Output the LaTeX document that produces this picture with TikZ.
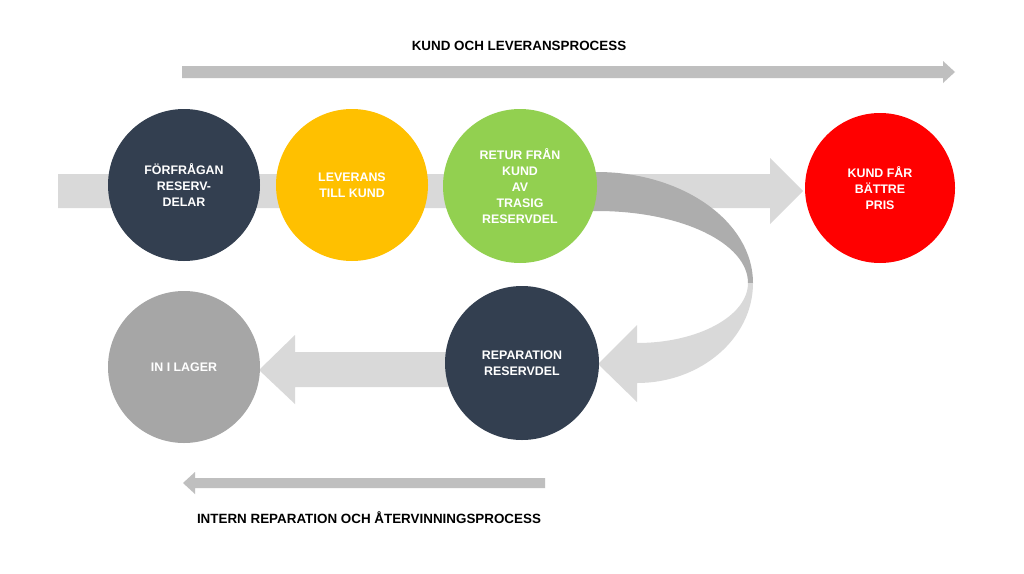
\documentclass[tikz,border=0pt]{standalone}
\usepackage{fontspec}
\setmainfont{Liberation Sans}
\definecolor{navy}{HTML}{333F50}
\definecolor{ylw}{HTML}{FFC000}
\definecolor{grn}{HTML}{92D050}
\definecolor{rd}{HTML}{FF0000}
\definecolor{gcirc}{HTML}{A6A6A6}
\definecolor{lband}{HTML}{D9D9D9}
\definecolor{dband}{HTML}{ADADAD}
\definecolor{thingray}{HTML}{BFBFBF}
\tikzset{
  stage/.style={circle, minimum size=152pt, inner sep=0pt, text=white,
    font=\bfseries\fontsize{12.4}{16}\selectfont, align=center},
  title/.style={font=\bfseries\fontsize{13.4}{15}\selectfont, text=black}
}
\begin{document}
\begin{tikzpicture}[x=1pt,y=-1pt]
\useasboundingbox (0,0) rectangle (1024,573);
\fill[white] (0,0) rectangle (1024,573);
% thin process arrows
\fill[thingray] (182,66) -- (943,66) -- (943,61) -- (955,72) -- (943,83) -- (943,78) -- (182,78) -- cycle;
\fill[thingray] (545,478) -- (195,478) -- (195,472) -- (183,483) -- (195,494) -- (195,488) -- (545,488) -- cycle;
\node[title] (t1) at (519,46) {KUND OCH LEVERANSPROCESS};
\node[title] (t2) at (369,518) {INTERN REPARATION OCH ÅTERVINNINGSPROCESS};
% main band
\fill[lband] (58,174) -- (770,174) -- (770,158) -- (803,191) -- (770,224) -- (770,208) -- (58,208) -- cycle;
% curved arrow dark part
\fill[dband] (580,172) -- (597,172) .. controls (683,172) and (753,222) .. (753,283)
  -- (748,283) .. controls (748,243) and (681,211) .. (597,211) -- (580,211) -- cycle;
% curved arrow light part
\fill[lband] (753,283) .. controls (753,338) and (701,383) .. (637,383)
  -- (637,402) -- (598,364) -- (637,325) -- (637,343)
  .. controls (698,343) and (748,316) .. (748,283) -- cycle;
% bottom band
\fill[lband] (460,352) -- (295,352) -- (295,335) -- (259,370) -- (295,404) -- (295,387) -- (460,387) -- cycle;
% circles
\node[stage, fill=navy] (req) at (184,185) {FÖRFRÅGAN\\RESERV-\\DELAR};
\node[stage, fill=ylw] (lev) at (352,185) {LEVERANS\\TILL KUND};
\node[stage, fill=grn, minimum size=154pt] (ret) at (520,186) {RETUR FRÅN\\KUND\\AV\\TRASIG\\RESERVDEL};
\node[stage, fill=rd, minimum size=150pt] (kund) at (880,188) {KUND FÅR\\BÄTTRE\\PRIS};
\node[stage, fill=navy, minimum size=154pt] (rep) at (522,363) {REPARATION\\RESERVDEL};
\node[stage, fill=gcirc] (lag) at (184,367) {IN I LAGER};
\end{tikzpicture}
\end{document}
